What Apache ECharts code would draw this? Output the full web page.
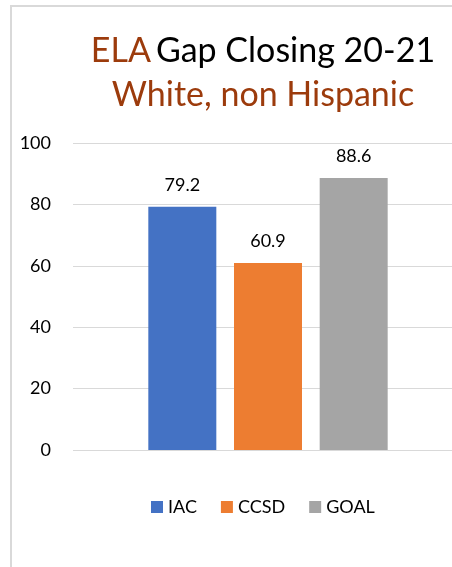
<!DOCTYPE html>
<html>
<head>
	<meta charset="UTF-8">
	<title>ELA Gap Closing 20-21</title>
	<style>
		html, body { margin:0; padding:0; background:#fff; }
		#chart { width:452px; height:567px; }
	</style>
</head>
<body>
<div id="chart"></div>

<script src="https://cdn.jsdelivr.net/npm/echarts@6/dist/echarts.min.js"></script>
<script type="text/javascript">
	// data
	var categories = ['ELA'];
	var seriesNames = ['IAC', 'CCSD', 'GOAL'];
	var seriesValues = [[79.2], [60.9], [88.6]];
	var seriesColors = ['#4472C4', '#ED7D31', '#A5A5A5'];
	var yTicks = [0, 20, 40, 60, 80, 100];

	var font = 'Lato, "Open Sans", sans-serif';
	var chart = echarts.init(document.getElementById('chart'));

	var series = [];
	for (var i = 0; i < seriesNames.length; i++)
	{
		series.push({
			name: seriesNames[i],
			type: 'bar',
			xAxisIndex: 1,
			yAxisIndex: 1,
			data: seriesValues[i],
			barWidth: 68,
			barGap: '26%',
			itemStyle: { color: seriesColors[i] },
			label: {
				show: true,
				position: 'top',
				distance: 13,
				fontSize: 18,
				fontFamily: font,
				color: '#000'
			}
		});
	}

	var yMin = yTicks[0], yMax = yTicks[yTicks.length - 1];

	var option =
	{
		animation: false,
		title: {
			text: '{a|ELA} {b|Gap Closing 20-21}\n{a|White, non Hispanic}',
			left: 258,
			top: 24,
			textAlign: 'center',
			textStyle: {
				rich: {
					a: { fontSize: 34, fontWeight: 'normal', fontFamily: font, color: '#9C3B0C', lineHeight: 44 },
					b: { fontSize: 34, fontWeight: 'normal', fontFamily: font, color: '#000', lineHeight: 44 }
				}
			}
		},
		legend: {
			data: seriesNames,
			top: 493,
			left: 146,
			itemWidth: 12,
			itemHeight: 12,
			itemGap: 24,
			icon: 'rect',
			textStyle: { fontSize: 18, fontFamily: font, color: '#000' }
		},
		graphic: [{
			type: 'rect',
			shape: { x: 11, y: 6, width: 460, height: 580 },
			style: { fill: 'none', stroke: '#D9D9D9', lineWidth: 2 },
			silent: true,
			z: -1
		}],
		grid: [
			{ left: 73, right: 0, top: 143, bottom: 117 },
			{ left: 84, right: 0, top: 143, bottom: 117 }
		],
		xAxis: [
			{ type: 'category', gridIndex: 0, data: categories, show: false },
			{
				type: 'category',
				gridIndex: 1,
				data: categories,
				axisLine: { show: false },
				axisTick: { show: false },
				axisLabel: { show: false }
			}
		],
		yAxis: [
			{
				type: 'value',
				gridIndex: 0,
				min: yMin,
				max: yMax,
				interval: 20,
				axisLine: { show: false },
				axisTick: { show: false },
				axisLabel: { fontSize: 18, fontFamily: font, color: '#000', margin: 22 },
				splitLine: { lineStyle: { color: '#D9D9D9', width: 1 } }
			},
			{
				type: 'value',
				gridIndex: 1,
				min: yMin,
				max: yMax,
				interval: 20,
				show: false,
				splitLine: { show: false }
			}
		],
		series: series
	};
	chart.setOption(option);
</script>
</body>
</html>
